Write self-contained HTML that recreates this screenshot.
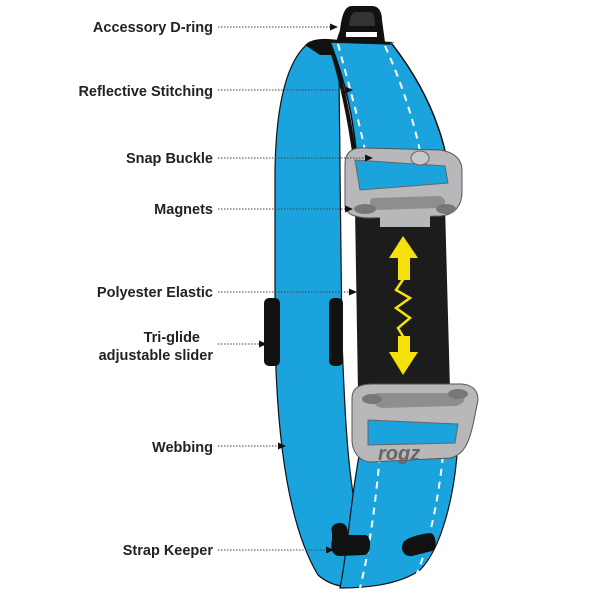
<!DOCTYPE html>
<html><head><meta charset="utf-8"><style>
html,body{margin:0;padding:0;background:#fff;}
svg{display:block;}
text{font-family:"Liberation Sans",sans-serif;font-size:14.5px;font-weight:bold;fill:#222;}
</style></head><body>
<svg width="600" height="600" viewBox="0 0 600 600" xmlns="http://www.w3.org/2000/svg">
<defs><marker id="a" markerWidth="8" markerHeight="8" refX="7" refY="4" orient="auto" markerUnits="userSpaceOnUse"><path d="M0,0.5 L8,4 L0,7.5 Z" fill="#111"/></marker></defs>
<!-- left/back strap -->
<path d="M310,42 C285,60 276,110 275,170 L275,330 C276,420 285,520 318,575 C335,590 360,590 380,580 L360,530 C348,480 345,420 342,340 L340,170 C340,120 338,80 340,55 Z" fill="#1aa3dc" stroke="#111" stroke-width="1.2"/>
<!-- lower front strap -->
<path d="M362,440 L458,440 C455,500 440,550 420,570 C400,584 370,588 340,588 C348,550 350,500 362,440 Z" fill="#1aa3dc" stroke="#111" stroke-width="1.2"/>
<path d="M382,430 C378,480 372,540 360,588 M445,430 C442,480 432,540 415,578" stroke="#fff" stroke-width="2" stroke-dasharray="7,6" fill="none"/>
<!-- top cap -->
<path d="M305,45 C312,38 325,38 338,40 L395,42 L338,55 L320,55 Z" fill="#111"/>
<!-- upper front strap -->
<path d="M330,42 L392,44 C420,80 440,120 448,165 L358,175 C355,120 345,80 330,42 Z" fill="#1aa3dc" stroke="#111" stroke-width="1.5"/>
<path d="M330,45 C342,80 352,130 357,175" stroke="#111" stroke-width="4" fill="none"/>
<path d="M338,44 C350,90 365,140 370,180 M385,46 C405,90 420,140 425,180" stroke="#fff" stroke-width="2" stroke-dasharray="7,6" fill="none"/>
<!-- D ring -->
<path d="M336,42 L340,30 C342,14 345,6 352,6 L372,6 C380,6 382,14 382,20 L385,42 Z" fill="#111"/>
<path d="M346,32 L377,32 L377,37 L346,37 Z" fill="#fff"/>
<path d="M349,26 C350,16 352,12 356,12 L370,12 C374,12 375,18 375,26 Z" fill="#333"/>
<!-- tri-glide -->
<rect x="264" y="298" width="16" height="68" rx="5" fill="#111"/>
<rect x="329" y="298" width="14" height="68" rx="5" fill="#111"/>
<!-- elastic -->
<path d="M355,208 L445,206 L450,390 L358,392 Z" fill="#1c1c1c"/>
<!-- upper buckle -->
<path d="M345,165 C345,152 352,147 365,148 L440,150 C455,152 462,160 462,170 L462,192 C462,205 455,215 440,216 L370,218 C355,218 345,214 345,205 Z" fill="#b8b8ba" stroke="#555" stroke-width="1"/>
<path d="M355,160 L445,166 L448,183 L360,190 Z" fill="#1aa3dc" stroke="#666" stroke-width="1"/>
<ellipse cx="420" cy="158" rx="9" ry="7" fill="#c8c8ca" stroke="#666"/>
<path d="M372,198 L440,196 C448,200 446,206 438,208 L378,210 C370,208 368,202 372,198 Z" fill="#8e8e90"/>
<ellipse cx="365" cy="209" rx="11" ry="5" fill="#777"/>
<ellipse cx="446" cy="209" rx="10" ry="5" fill="#777"/>
<rect x="380" y="210" width="50" height="17" fill="#b8b8ba"/>
<!-- arrow -->
<path d="M403,236 L389,258 L398,258 L398,280 L410,280 L410,258 L418,258 Z M403,375 L389,352 L398,352 L398,336 L410,336 L410,352 L418,352 Z" fill="#f5e20d"/>
<path d="M404,278 L396,290 L410,298 L396,308 L410,318 L398,328 L404,338" stroke="#f5e20d" stroke-width="2.5" fill="none"/>
<!-- lower buckle -->
<path d="M352,398 C352,388 360,384 372,384 L462,384 C474,385 478,392 478,400 L474,420 C470,440 465,455 450,458 L372,462 C358,462 352,450 352,440 Z" fill="#b8b8ba" stroke="#555" stroke-width="1"/>
<path d="M376,393 L460,393 C468,398 464,404 456,406 L382,408 C372,406 370,398 376,393 Z" fill="#8e8e90"/>
<ellipse cx="372" cy="399" rx="10" ry="5" fill="#777"/>
<ellipse cx="458" cy="394" rx="10" ry="5" fill="#777"/>
<path d="M368,420 L458,424 L455,443 L368,445 Z" fill="#1aa3dc" stroke="#666"/>
<text x="378" y="460" style="font-size:20px;font-style:italic;fill:#666;font-weight:bold">rogz</text>
<!-- strap keepers -->
<path d="M332,532 C330,527 334,523 340,523 C346,523 348,528 348,535 L365,535 C372,535 372,555 364,555 L340,556 C332,556 330,548 332,540 Z" fill="#111"/>
<path d="M403,543 C405,538 420,534 430,533 C436,533 438,548 432,551 L412,556 C404,557 400,550 403,543 Z" fill="#111"/>
<!-- labels -->
<g text-anchor="end">
<text x="213" y="32">Accessory D-ring</text>
<text x="213" y="96">Reflective Stitching</text>
<text x="213" y="163">Snap Buckle</text>
<text x="213" y="214">Magnets</text>
<text x="213" y="297">Polyester Elastic</text>
<text x="200" y="342">Tri-glide</text>
<text x="213" y="360">adjustable slider</text>
<text x="213" y="452">Webbing</text>
<text x="213" y="555">Strap Keeper</text>
</g>
<g stroke="#444" stroke-width="1" stroke-dasharray="1.5,1.5" fill="none" marker-end="url(#a)">
<line x1="218" y1="27" x2="337" y2="27"/>
<line x1="218" y1="90" x2="352" y2="90"/>
<line x1="218" y1="158" x2="372" y2="158"/>
<line x1="218" y1="209" x2="352" y2="209"/>
<line x1="218" y1="292" x2="356" y2="292"/>
<line x1="218" y1="344" x2="266" y2="344"/>
<line x1="218" y1="446" x2="285" y2="446"/>
<line x1="218" y1="550" x2="333" y2="550"/>
</g>
</svg>
</body></html>
